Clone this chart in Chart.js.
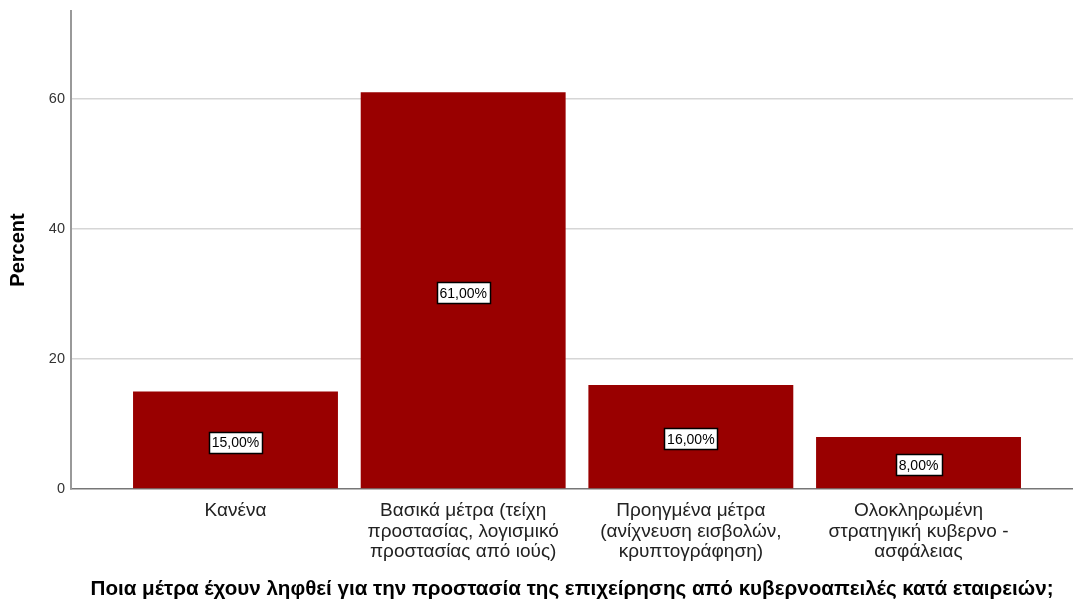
<!DOCTYPE html>
<html>
<head>
<meta charset="utf-8">
<script src="https://cdn.jsdelivr.net/npm/chart.js@4/dist/chart.umd.min.js"></script>
<style>
  body { margin: 0; background: #fff; }
  #wrap { width: 1073px; height: 606px; }
</style>
</head>
<body>
<div id="wrap"><canvas id="barChart" width="1073" height="606"></canvas></div>
<script>
// カテゴリ（複数行ラベル）
const categories = [
  ['Κανένα'],
  ['Βασικά μέτρα (τείχη', 'προστασίας, λογισμικό', 'προστασίας από ιούς)'],
  ['Προηγμένα μέτρα', '(ανίχνευση εισβολών,', 'κρυπτογράφηση)'],
  ['Ολοκληρωμένη', 'στρατηγική κυβερνο -', 'ασφάλειας']
];
// 割合[%]
const percents = [15, 61, 16, 8];
// Y軸の目盛り
const yTicks = [0, 20, 40, 60];

const FONT = "'Liberation Sans', Arial, sans-serif";

// 棒の中央に値ラベル（白地・黒枠）を描く
const valueBoxes = {
  id: 'valueBoxes',
  afterDatasetsDraw(chart) {
    const ctx = chart.ctx;
    const meta = chart.getDatasetMeta(0);
    const yScale = chart.scales.y;
    ctx.save();
    ctx.font = '14px ' + FONT;
    ctx.textAlign = 'center';
    ctx.textBaseline = 'middle';
    meta.data.forEach((bar, i) => {
      const v = percents[i];
      const text = v.toFixed(2).replace('.', ',') + '%';
      const cy = yScale.getPixelForValue(v / 2) + 2;
      const w = Math.round(ctx.measureText(text).width) + 6;
      const h = 21;
      const x0 = Math.round(bar.x - w / 2) + 0.5;
      const y0 = Math.round(cy - h / 2) + 0.5;
      ctx.fillStyle = '#fff';
      ctx.fillRect(x0, y0, w, h);
      ctx.strokeStyle = '#000';
      ctx.lineWidth = 1.5;
      ctx.strokeRect(x0, y0, w, h);
      ctx.fillStyle = '#000';
      ctx.fillText(text, bar.x, cy + 1);
    });
    ctx.restore();
  }
};

new Chart(document.getElementById('barChart'), {
  type: 'bar',
  data: {
    datasets: [{
      data: percents.map((v, i) => ({ x: i + 1, y: v })),
      backgroundColor: '#990000',
      borderWidth: 0,
      categoryPercentage: 1,
      barPercentage: 0.9
    }]
  },
  options: {
    responsive: false,
    animation: false,
    layout: { padding: { top: 11, right: 0, left: 0, bottom: 0 } },
    plugins: {
      legend: { display: false },
      tooltip: { enabled: false }
    },
    scales: {
      x: {
        type: 'linear',
        offset: false,
        min: 0.2775,
        max: 4.6785,
        afterBuildTicks: s => { s.ticks = categories.map((c, i) => ({ value: i + 1 })); },
        afterFit: s => { s.height = 117; },
        grid: { display: false, drawTicks: false },
        border: { display: true, color: '#777', width: 1.5 },
        ticks: {
          autoSkip: false,
          maxRotation: 0,
          padding: 11,
          color: '#222',
          font: { family: FONT, size: 19, lineHeight: 1.1 },
          callback: v => categories[v - 1] || ''
        },
        title: {
          display: true,
          text: 'Ποια μέτρα έχουν ληφθεί για την προστασία της επιχείρησης από κυβερνοαπειλές κατά εταιρειών;',
          color: '#000',
          font: { family: FONT, size: 20.6, weight: 'bold' },
          padding: { top: 10, bottom: 4 }
        }
      },
      y: {
        min: 0,
        max: 73.5,
        afterBuildTicks: s => { s.ticks = yTicks.map(v => ({ value: v })); },
        afterFit: s => { s.width = 71; s.paddingTop = 0; s.paddingBottom = 0; },
        grid: {
          color: ctx => ctx.tick && ctx.tick.value === 0 ? 'rgba(0,0,0,0)' : '#d6d6d6',
          lineWidth: 1.5,
          drawTicks: false
        },
        border: { display: true, color: '#999', width: 2 },
        ticks: {
          padding: 6,
          color: '#333',
          font: { family: FONT, size: 14.5 }
        },
        title: {
          display: true,
          text: 'Percent',
          color: '#000',
          font: { family: FONT, size: 20, weight: 'bold' },
          padding: { top: 6, bottom: 6 }
        }
      }
    }
  },
  plugins: [valueBoxes]
});
</script>
</body>
</html>
